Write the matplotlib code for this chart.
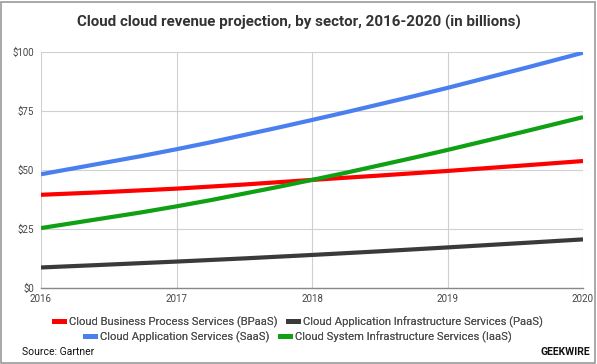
import numpy as np
import matplotlib.pyplot as plt
from matplotlib.path import Path
from matplotlib.patches import PathPatch, Rectangle
from matplotlib.lines import Line2D

plt.rcParams['font.family'] = ['Roboto', 'DejaVu Sans']

years = [2016, 2017, 2018, 2019, 2020]
bpaas = [39.5, 42.1, 45.8, 49.6, 53.8]
saas = [48.2, 58.8, 71.2, 84.8, 99.7]
paas = [8.7, 11.2, 14.0, 17.2, 20.6]
iaas = [25.4, 34.6, 45.8, 58.5, 72.4]

series = [
    ('Cloud Business Process Services (BPaaS)', bpaas, '#ff0000'),
    ('Cloud Application Services (SaaS)', saas, '#4a7ff0'),
    ('Cloud Application Infrastructure Services (PaaS)', paas, '#3a3a3a'),
    ('Cloud System Infrastructure Services (IaaS)', iaas, '#0fa014'),
]
yticks = [0, 25, 50, 75, 100]
ytick_labels = ['$0', '$25', '$50', '$75', '$100']


def smooth_path(x, y):
    # catmull-rom -> cubic bezier, just for drawing smooth lines like google sheets
    x = np.asarray(x, float)
    y = np.asarray(y, float)
    pts = np.column_stack([x, y])
    verts = [pts[0]]
    codes = [Path.MOVETO]
    for i in range(len(pts) - 1):
        p0 = pts[i - 1] if i > 0 else pts[i]
        p1 = pts[i]
        p2 = pts[i + 1]
        p3 = pts[i + 2] if i + 2 < len(pts) else pts[i + 1]
        c1 = p1 + (p2 - p0) / 6
        c2 = p2 - (p3 - p1) / 6
        verts += [c1, c2, p2]
        codes += [Path.CURVE4] * 3
    return Path(verts, codes)


W, H = 597, 364
fig = plt.figure(figsize=(W / 100, H / 100), dpi=100)
ax = fig.add_axes([41 / W, 1 - 288 / H, (583 - 41) / W, (288 - 52) / H])

for name, vals, col in series:
    ax.add_patch(PathPatch(smooth_path(years, vals), facecolor='none',
                           edgecolor=col, lw=3.0, capstyle='butt', zorder=3))

ax.set_xlim(2016, 2020)
ax.set_ylim(0, 100)
ax.set_xticks(years)
ax.set_xticklabels([str(y) for y in years])
ax.set_yticks(yticks)
ax.set_yticklabels(ytick_labels)
ax.grid(True, color='#d0d0d0', lw=0.8)
ax.set_axisbelow(True)
for s in ['top', 'right', 'left']:
    ax.spines[s].set_visible(False)
ax.spines['bottom'].set_color('#888888')
ax.spines['bottom'].set_linewidth(1.0)
ax.tick_params(length=0, labelsize=7, colors='#444444', pad=4)
ax.tick_params(axis='y', pad=5)

fig.text(0.5, 1 - 22 / H, 'Cloud cloud revenue projection, by sector, 2016-2020 (in billions)',
         ha='center', va='center', fontsize=10.9, fontweight='bold', color='#333333')

handles = {name: Line2D([], [], color=col, lw=3.5) for name, vals, col in series}
names = [s[0] for s in series]
row1 = [names[0], names[2]]
row2 = [names[1], names[3]]
for row, yy in [(row1, 322), (row2, 337)]:
    leg = fig.legend([handles[n] for n in row], row, ncol=2, loc='center',
                     bbox_to_anchor=(0.5, 1 - yy / H), frameon=False, fontsize=8.1,
                     handlelength=0.9, handletextpad=0.45, columnspacing=0.9,
                     borderpad=0, labelcolor='#505050')
    fig.add_artist(leg)

fig.text(22 / W, 1 - 352 / H, 'Source: Gartner', ha='left', va='center',
         fontsize=7.5, color='#111111')
fig.text(590 / W, 1 - 352 / H, 'GEEKWIRE', ha='right', va='center',
         fontsize=7.5, fontweight='bold', color='#111111')

fig.add_artist(Rectangle((1 / W, 1 / H), (W - 3) / W, (H - 3) / H, transform=fig.transFigure,
                         fill=False, edgecolor='#999999', lw=1.2))

fig.savefig('out.png', dpi=100)
